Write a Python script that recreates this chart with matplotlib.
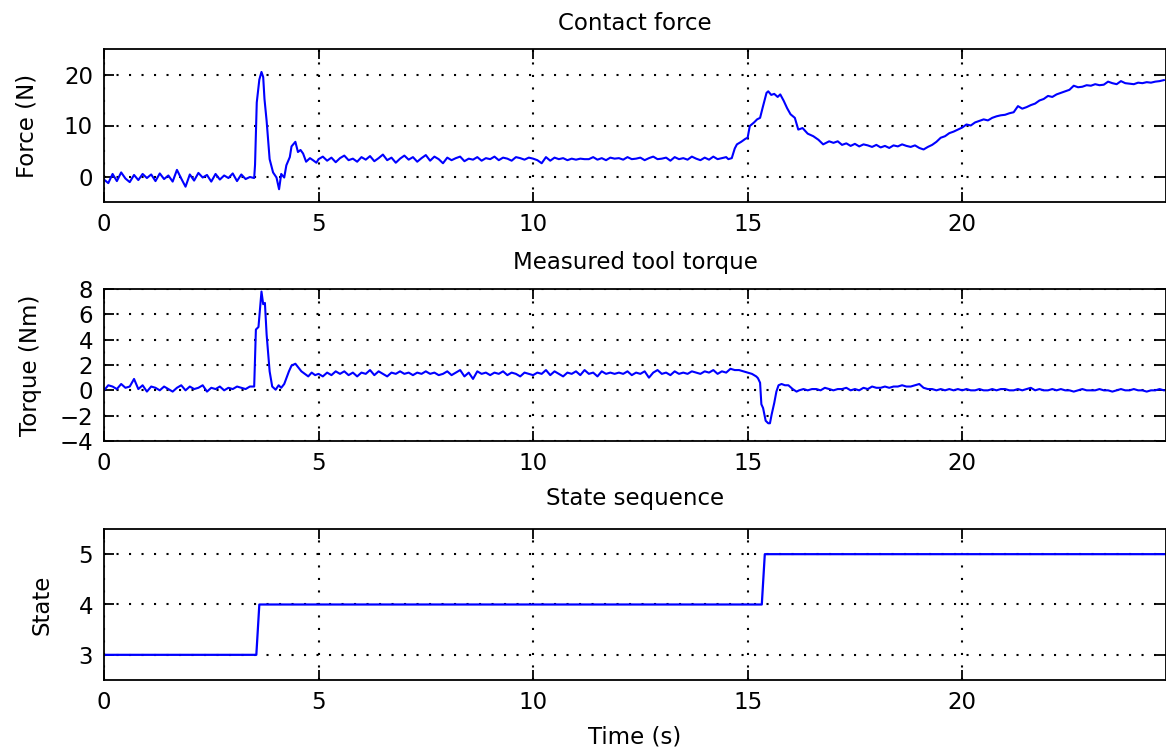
import numpy as np
import matplotlib
matplotlib.use("Agg")
from matplotlib import pyplot as plt

plt.rcParams['font.family'] = ['DejaVu Sans']

# Contact force (N) in pieces
force_a = [-0.6, -1.3, 0.5, -0.9, 0.8, -0.4, -1.1, 0.3, -0.7, 0.5,
           -0.3, 0.4, -0.9, 0.6, -0.5, 0.2, -1.0, 1.3, -0.4, -2.0,
           0.4, -0.8, 0.7, -0.2, 0.3, -1.0, 0.5, -0.6, 0.2, -0.3,
           0.6, -0.9, 0.4, -0.5, -0.1]
force_spike_t = [3.5, 3.52, 3.56, 3.62, 3.67, 3.71, 3.74, 3.79, 3.86, 3.94,
                 4.02, 4.08, 4.13, 4.2, 4.25, 4.33, 4.37, 4.46, 4.52, 4.58,
                 4.64, 4.71, 4.8, 4.87, 4.95]
force_spike = [-0.3, 2.3, 14.5, 19.0, 20.5, 19.5, 15.2, 10.9, 3.4, 0.8,
               -0.2, -2.5, 0.5, -0.2, 2.2, 3.8, 5.9, 6.8, 4.8, 5.2,
               4.5, 2.9, 3.6, 3.2, 2.7]
force_b = [3.4, 3.9, 3.1, 3.7, 2.8, 3.6, 4.1, 3.2, 3.5, 2.9,
           3.8, 3.3, 4.0, 3.0, 3.6, 4.3, 3.2, 3.7, 2.7, 3.5,
           4.1, 3.3, 3.8, 2.9, 3.6, 4.2, 3.1, 3.9, 3.4, 2.6,
           3.7, 3.2, 3.6, 3.9, 3.0, 3.5, 3.3, 3.8, 3.1, 3.6,
           3.4, 3.9, 3.2, 3.7, 3.5, 3.1, 3.8, 3.6, 3.3, 3.7,
           3.5, 3.2, 2.6, 3.8, 3.1, 3.7, 3.4, 3.6, 3.2, 3.5,
           3.3, 3.5, 3.4, 3.4, 3.8, 3.3, 3.6, 3.2, 3.7, 3.5,
           3.6, 3.3, 3.8, 3.4, 3.5, 3.7, 3.2, 3.6, 3.9, 3.4,
           3.5, 3.7, 3.1, 3.8, 3.4, 3.6, 3.3, 3.9, 3.5, 3.2,
           3.7, 3.3, 3.9, 3.4, 3.6, 3.8]
force_bump_t = [14.55, 14.63, 14.7, 14.75, 14.85, 14.95, 15.0, 15.05, 15.15, 15.22,
                15.29, 15.35, 15.44, 15.48, 15.55, 15.62, 15.7, 15.76, 15.84, 15.92,
                16.0, 16.1, 16.18, 16.28, 16.4, 16.53, 16.65, 16.76, 16.9]
force_bump = [3.4, 3.6, 5.5, 6.3, 6.8, 7.4, 7.6, 9.9, 10.6, 11.2,
              11.5, 13.5, 16.4, 16.7, 16.0, 16.2, 15.6, 16.1, 14.85, 13.4,
              12.2, 11.5, 9.2, 9.5, 8.4, 7.9, 7.2, 6.3, 6.9]
force_d = [6.6, 6.9, 6.2, 6.5, 6.0, 6.4, 5.9, 6.3, 6.1, 5.8,
           6.2, 5.7, 6.0, 5.6, 6.1, 5.9, 6.3, 6.0, 5.8, 6.1,
           5.6, 5.3, 5.8, 6.2, 6.8, 7.6, 7.9, 8.5, 8.8, 9.2,
           9.6, 10.2, 10.0, 10.6, 10.9, 11.2, 11.0, 11.5, 11.8, 12.0,
           12.1, 12.4, 12.6, 13.8, 13.3, 13.6, 14.0, 14.3, 14.9, 15.2,
           15.8, 15.6, 16.1, 16.4, 16.7, 17.0, 17.8, 17.5, 17.6, 17.9,
           17.8, 18.1, 17.9, 18.0, 18.6, 18.3, 18.1, 18.7, 18.3, 18.2,
           18.1, 18.4, 18.3, 18.5, 18.4, 18.6, 18.7, 18.9]

# Measured tool torque (Nm)
torque_a = [0.0, 0.4, 0.3, 0.1, 0.5, 0.2, 0.3, 0.9, 0.1, 0.4,
            -0.1, 0.3, 0.2, 0.0, 0.3, 0.1, -0.1, 0.2, 0.4, 0.0,
            0.3, 0.1, 0.2, 0.4, -0.1, 0.2, 0.1, 0.3, 0.0, 0.2,
            0.1, 0.3, 0.2, 0.1, 0.3]
torque_spike_t = [3.5, 3.54, 3.6, 3.67, 3.71, 3.75, 3.79, 3.86, 3.92, 4.0,
                  4.07, 4.13, 4.2, 4.25, 4.31, 4.37, 4.46, 4.53, 4.6, 4.68,
                  4.76, 4.84, 4.92]
torque_spike = [0.3, 4.8, 5.0, 7.8, 6.8, 6.9, 4.4, 1.5, 0.3, 0.05,
                0.4, 0.2, 0.5, 0.95, 1.5, 1.95, 2.1, 1.8, 1.5, 1.3,
                1.1, 1.4, 1.2]
torque_b = [1.3, 1.1, 1.4, 1.2, 1.5, 1.3, 1.5, 1.2, 1.4, 1.1,
            1.4, 1.3, 1.6, 1.2, 1.5, 1.3, 1.1, 1.4, 1.3, 1.5,
            1.3, 1.4, 1.2, 1.4, 1.3, 1.5, 1.3, 1.4, 1.2, 1.3,
            1.5, 1.2, 1.4, 1.6, 1.1, 1.4, 0.9, 1.5, 1.3, 1.4,
            1.2, 1.4, 1.3, 1.5, 1.2, 1.4, 1.3, 1.1, 1.4, 1.3,
            1.2, 1.4, 1.3, 1.6, 1.2, 1.5, 1.3, 1.1, 1.4, 1.3,
            1.5, 1.2, 1.6, 1.3, 1.4, 1.1, 1.5, 1.3, 1.4, 1.3,
            1.4, 1.3, 1.5, 1.2, 1.4, 1.3, 1.5, 1.0, 1.4, 1.6,
            1.3, 1.4, 1.2, 1.5, 1.3, 1.4, 1.3, 1.5, 1.4, 1.3,
            1.5, 1.4, 1.6, 1.3, 1.5, 1.4, 1.7, 1.6, 1.6, 1.5,
            1.4, 1.3]
torque_dip_t = [15.2, 15.24, 15.29, 15.32, 15.36, 15.42, 15.48, 15.52, 15.56, 15.62,
                15.67, 15.72, 15.79, 15.87, 15.95, 16.05, 16.14]
torque_dip = [1.1, 0.96, 0.6, -1.1, -1.4, -2.4, -2.6, -2.6, -1.9, -1.0,
              -0.1, 0.4, 0.5, 0.4, 0.4, 0.1, -0.1]
torque_c = [0.0, 0.1, 0.0, 0.1, 0.1, 0.0, 0.2, 0.1, 0.0, 0.1,
            0.1, 0.2, 0.0, 0.1, 0.0, 0.2, 0.1, 0.3, 0.2, 0.2,
            0.3, 0.2, 0.3, 0.3, 0.4, 0.3, 0.3, 0.4, 0.5, 0.2,
            0.1, 0.1, 0.0, 0.1, 0.0, 0.1, 0.0, 0.1, 0.0, 0.1,
            0.0, 0.0, 0.1, 0.0, 0.0, 0.1, 0.0, 0.1, 0.1, 0.0,
            0.0, 0.1, 0.0, 0.1, 0.2, 0.0, 0.1, 0.0, 0.0, 0.1,
            0.0, 0.1, 0.0, 0.0, -0.1, 0.0, 0.1, 0.0, 0.0, 0.0,
            0.1, 0.0, 0.0, -0.1, 0.0, 0.1, 0.0, 0.0, 0.1, 0.0,
            0.0, -0.1, 0.0, 0.0, 0.1, 0.0]

# State sequence
state_t = [0, 3.55, 3.62, 15.33, 15.40, 24.75]
state = [3, 3, 4, 4, 5, 5]


def sampled(start, vals, step=0.1):
    return start + step * np.arange(len(vals))


force_t = np.concatenate([sampled(0.0, force_a), force_spike_t, sampled(5.0, force_b),
                          force_bump_t, sampled(17.0, force_d)])
force = np.concatenate([force_a, force_spike, force_b, force_bump, force_d])
torque_t = np.concatenate([sampled(0.0, torque_a), torque_spike_t, sampled(5.0, torque_b),
                           torque_dip_t, sampled(16.2, torque_c)])
torque = np.concatenate([torque_a, torque_spike, torque_b, torque_dip, torque_c])

fig = plt.figure(figsize=(11.66, 7.5), dpi=100)
W, H = 1166, 750
left = 104 / W
boxes = [(49, 202), (289, 441), (529, 680)]
axes = [fig.add_axes([left, 1 - b / H, 1 - left, (b - t) / H]) for t, b in boxes]

blue = '#0000ff'
axes[0].plot(force_t, force, color=blue, lw=1.5)
axes[1].plot(torque_t, torque, color=blue, lw=1.5)
axes[2].plot(state_t, state, color=blue, lw=1.6)

fs = 16.5
titles = ['Contact force', 'Measured tool torque', 'State sequence']
title_pads = [14, 14.5, 17]
ylabels = ['Force (N)', 'Torque (Nm)', 'State']
ylims = [(-5, 25), (-4, 8), (2.5, 5.5)]
yticks = [[0, 10, 20], [-4, -2, 0, 2, 4, 6, 8], [3, 4, 5]]
label_x = [38, 42, 53]

for ax, ttl, tp, yl, lim, yt, lx in zip(axes, titles, title_pads, ylabels, ylims,
                                        yticks, label_x):
    ax.set_xlim(0, 24.75)
    ax.set_ylim(*lim)
    ax.set_yticks(yt)
    ax.set_xticks([0, 5, 10, 15, 20])
    ax.set_title(ttl, fontsize=fs, pad=tp)
    ax.set_ylabel(yl, fontsize=fs)
    ax.yaxis.set_label_coords(-(104 - lx) / (W - 104), 0.5)
    ax.grid(True, color='black', linestyle=(0, (1, 5)), lw=1.5)
    ax.tick_params(direction='in', top=True, right=True, length=7, width=1.3,
                   labelsize=fs, pad=8)
    for sp in ax.spines.values():
        sp.set_linewidth(1.3)

axes[2].set_xlabel('Time (s)', fontsize=fs, labelpad=8)

fig.savefig('out.png', dpi=100)
